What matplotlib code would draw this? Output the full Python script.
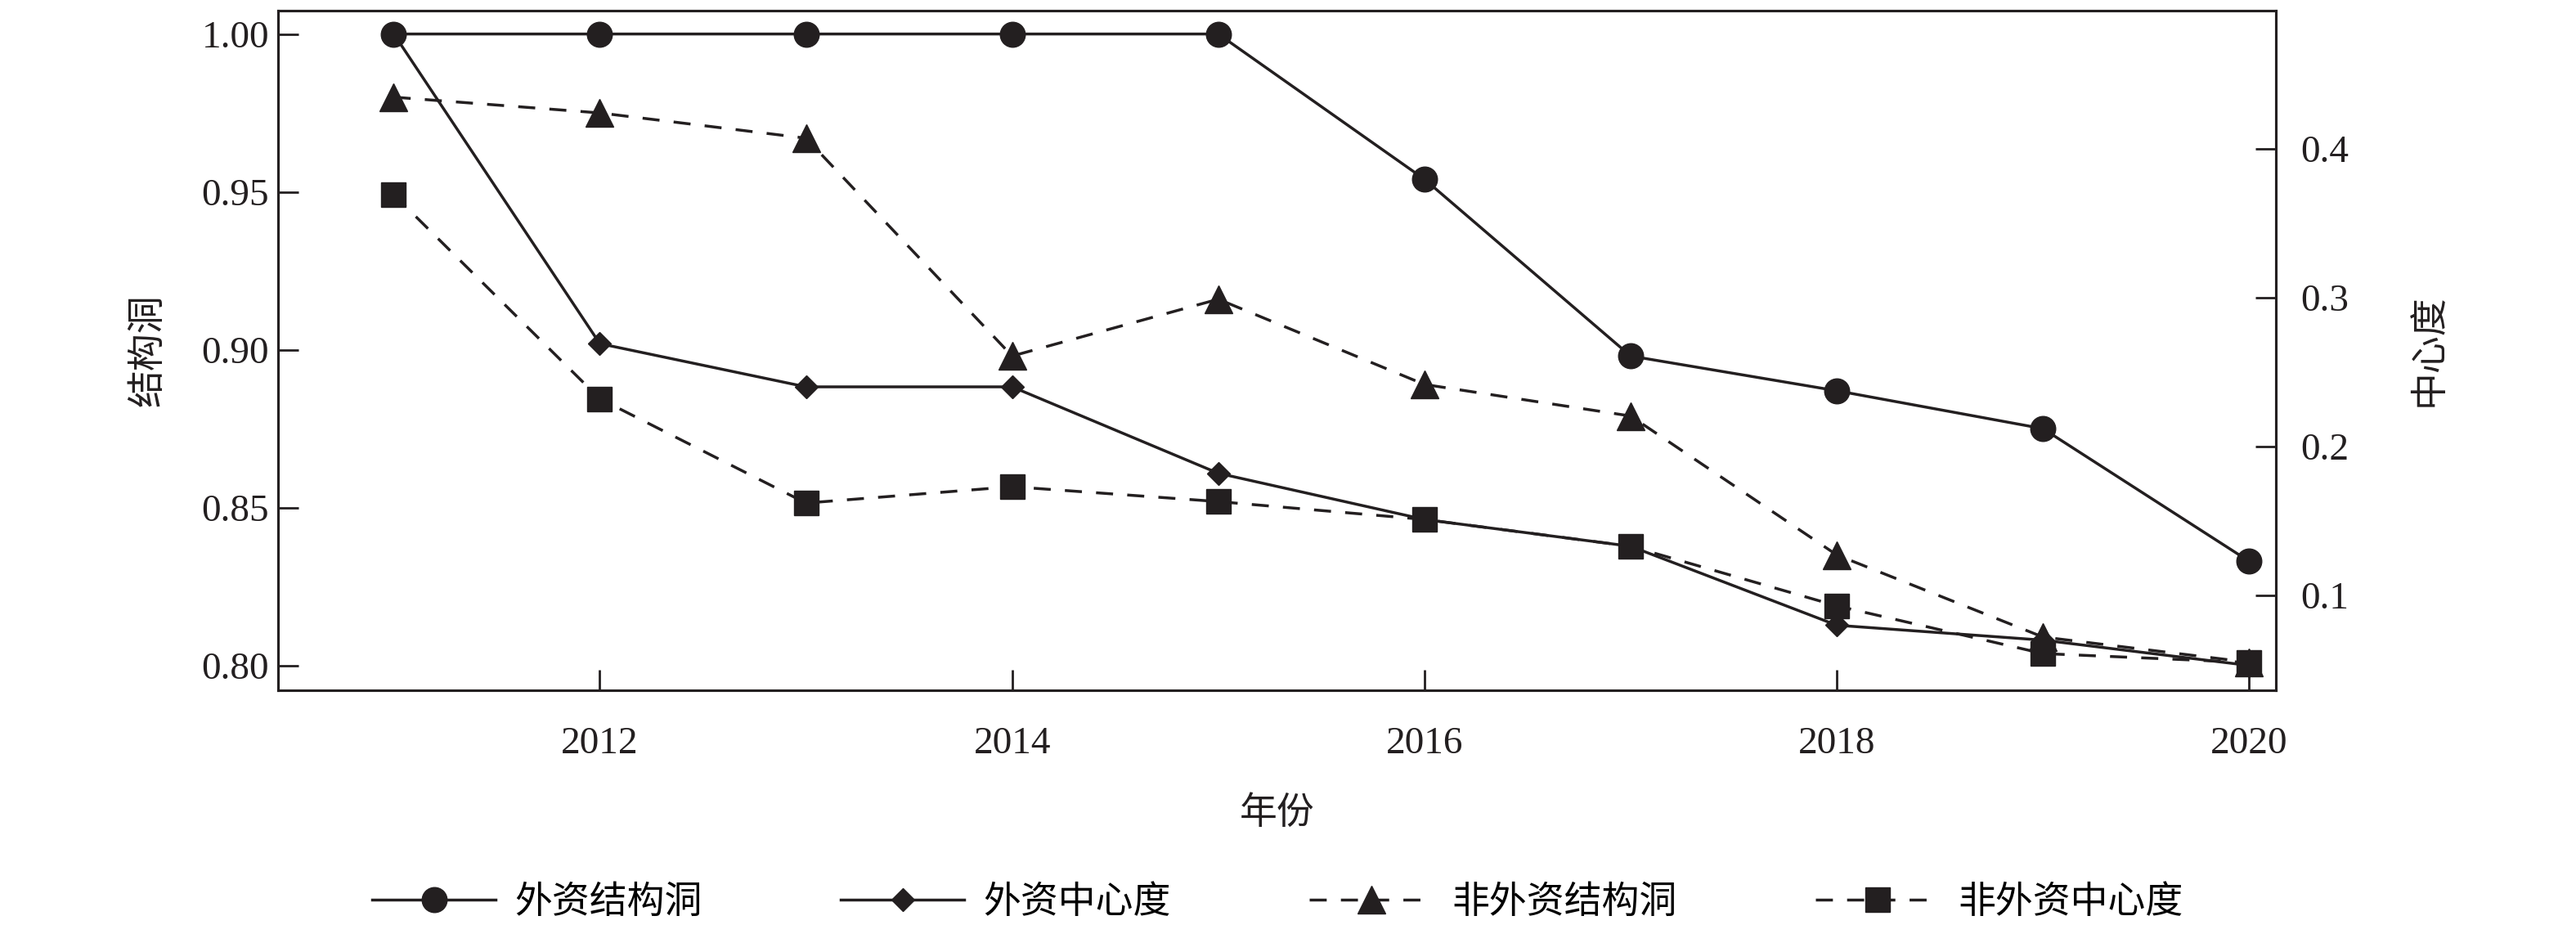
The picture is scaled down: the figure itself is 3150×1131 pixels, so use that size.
import matplotlib
matplotlib.use('Agg')
import matplotlib.pyplot as plt

years = [2011, 2012, 2013, 2014, 2015, 2016, 2017, 2018, 2019, 2020]
fdi_hole = [1.000, 1.000, 1.000, 1.000, 1.000, 0.954, 0.898, 0.887, 0.875, 0.833]
fdi_cent = [0.477, 0.269, 0.240, 0.240, 0.182, 0.151, 0.133, 0.080, 0.070, 0.053]
non_hole = [0.980, 0.975, 0.967, 0.898, 0.916, 0.889, 0.879, 0.835, 0.809, 0.801]
non_cent = [0.369, 0.232, 0.162, 0.173, 0.163, 0.151, 0.133, 0.093, 0.061, 0.055]
labels = ['外资结构洞', '外资中心度', '非外资结构洞', '非外资中心度']

plt.rcParams['font.family'] = ['Liberation Serif', 'Noto Sans CJK SC']
c = '#231f20'
cjk = ['Noto Sans CJK SC']

fig = plt.figure(figsize=(31.5, 11.31), dpi=100)
ax = fig.add_axes([0.108, 0.254, 0.7755, 0.7345])
ax2 = ax.twinx()

l1, = ax.plot(years, fdi_hole, color=c, lw=2.5, marker='o', ms=22)
l3, = ax.plot(years, non_hole, color=c, lw=2.5, ls=(0, (6, 5)), marker='^', ms=24)
l2, = ax2.plot(years, fdi_cent, color=c, lw=2.5, marker='D', ms=14)
l4, = ax2.plot(years, non_cent, color=c, lw=2.5, ls=(0, (6, 5)), marker='s', ms=22)

ax.set_xlim(2010.44, 2020.13)
ax.set_ylim(0.7922, 1.0074)
ax2.set_ylim(0.0365, 0.4925)
ax.set_xticks([2012, 2014, 2016, 2018, 2020])
ax.set_yticks([0.80, 0.85, 0.90, 0.95, 1.00])
ax.set_yticklabels(['0.80', '0.85', '0.90', '0.95', '1.00'])
ax2.set_yticks([0.1, 0.2, 0.3, 0.4])

ax.tick_params(axis='y', direction='in', length=18, width=2, labelsize=34, pad=8, colors=c)
ax.tick_params(axis='x', direction='in', length=18, width=2, labelsize=34, pad=32, colors=c)
ax2.tick_params(axis='y', direction='in', length=18, width=2, labelsize=34, pad=22, colors=c)
for a in (ax, ax2):
    for s in a.spines.values():
        s.set_linewidth(2.2)
        s.set_color(c)

ax.set_xlabel('年份', fontsize=33, family=cjk, color=c, labelpad=28)
ax.set_ylabel('结构洞', fontsize=33, family=cjk, color=c, labelpad=30)
ax2.set_ylabel('中心度', fontsize=33, family=cjk, color=c, labelpad=52, rotation=90)

leg = fig.legend([l1, l2, l3, l4], labels, loc='center', bbox_to_anchor=(0.496, 0.025),
                 ncol=4, frameon=False, prop={'family': cjk, 'size': 33},
                 handlelength=3.3, handletextpad=0.5, columnspacing=3.7)

fig.savefig('out.png', dpi=100)
